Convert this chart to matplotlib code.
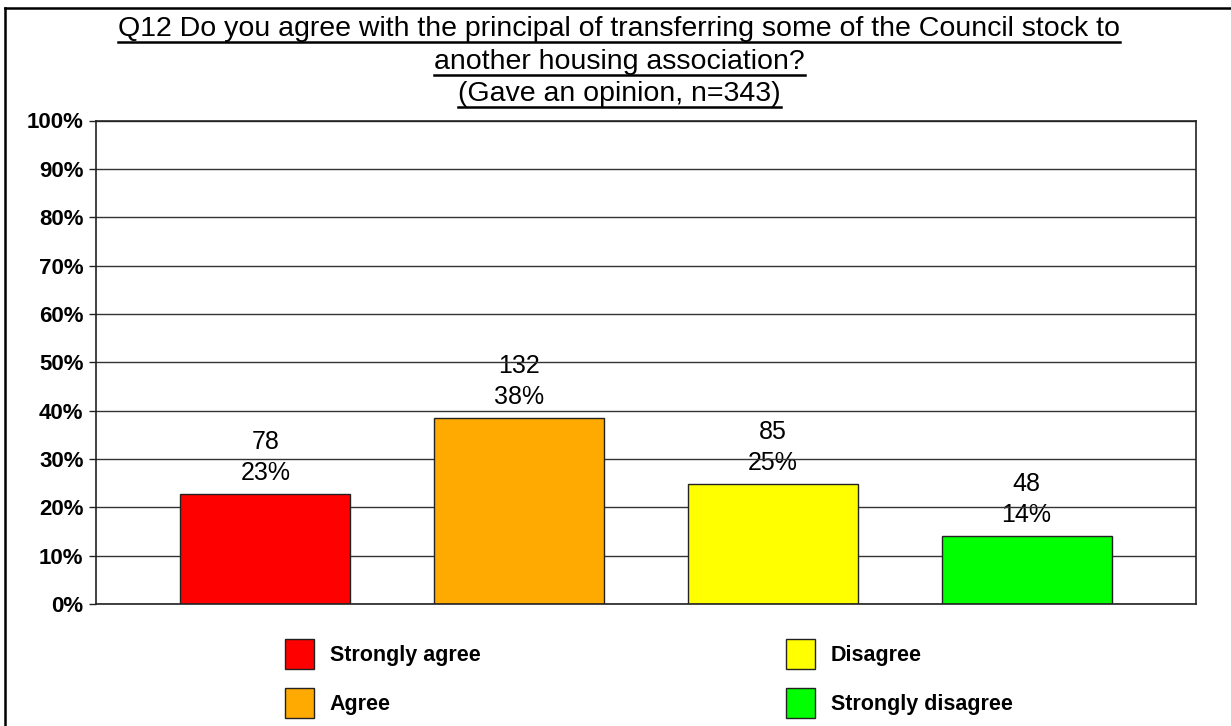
import matplotlib
matplotlib.use("Agg")
import matplotlib.pyplot as plt
from matplotlib.lines import Line2D

plt.rcParams['font.family'] = ['Liberation Sans', 'DejaVu Sans']

# ---- data ----
categories = ["Strongly agree", "Agree", "Disagree", "Strongly disagree"]
counts = [78, 132, 85, 48]
percents = [22.7, 38.5, 24.8, 14.0]
pct_labels = ["23%", "38%", "25%", "14%"]
colors = ["#FF0000", "#FFAA00", "#FFFF00", "#00FF00"]
yticks = [0, 10, 20, 30, 40, 50, 60, 70, 80, 90, 100]
ytick_labels = [f"{v}%" for v in yticks]
title_lines = [
    "Q12 Do you agree with the principal of transferring some of the Council stock to",
    "another housing association?",
    "(Gave an opinion, n=343)",
]

W, H = 1231, 726
fig = plt.figure(figsize=(W / 100, H / 100), dpi=100)
fig.patch.set_facecolor("white")

ax = fig.add_axes([96 / W, 1 - 604 / H, 1100 / W, 483.5 / H])
x = list(range(len(categories)))
bars = ax.bar(x, percents, width=0.67, color=colors, edgecolor="#222222",
              linewidth=1.0, zorder=2)

ax.set_ylim(0, 100)
ax.set_xlim(-0.668, 3.668)
ax.set_yticks(yticks)
ax.set_yticklabels(ytick_labels, fontsize=16, fontweight="bold")
ax.set_xticks([])
ax.tick_params(axis="y", length=5, width=1, pad=4, color="#222222")
ax.yaxis.grid(True, color="#333333", linewidth=1.0, zorder=1)
ax.set_axisbelow(True)
for s in ["left", "right", "top", "bottom"]:
    ax.spines[s].set_color("#222222")
    ax.spines[s].set_linewidth(1.2)

for xi, p, c, pl in zip(x, percents, counts, pct_labels):
    ax.annotate(f"{c}\n{pl}", xy=(xi, p), xytext=(0, 14), textcoords="offset pixels",
                ha="center", va="baseline", fontsize=18, linespacing=1.36,
                zorder=0)

# ---- title with underline ----
baselines = [36, 69, 101]
fig.canvas.draw()
renderer = fig.canvas.get_renderer()
for line, b in zip(title_lines, baselines):
    t = fig.text(0.503, 1 - b / H, line, ha="center", va="baseline", fontsize=20.5)
    bb = t.get_window_extent(renderer=renderer)
    uy = 1 - (b + 6) / H
    fig.add_artist(Line2D([bb.x0 / W, bb.x1 / W], [uy, uy], color="black",
                          linewidth=1.8, transform=fig.transFigure))

# ---- legend (two columns) ----
leg_kw = dict(frameon=False, loc="upper left", borderpad=0, borderaxespad=0,
              handlelength=1.35, handleheight=1.77, handletextpad=0.72,
              labelspacing=0.86, prop={"weight": "bold", "size": 15.5})
fig.legend([bars[0], bars[1]], [categories[0], categories[1]],
           bbox_to_anchor=(285 / W, 1 - 639 / H), **leg_kw)
fig.legend([bars[2], bars[3]], [categories[2], categories[3]],
           bbox_to_anchor=(786 / W, 1 - 639 / H), **leg_kw)

# ---- outer border (top and left visible) ----
fig.add_artist(Line2D([5 / W, 1], [1 - 8 / H, 1 - 8 / H], color="black",
                      linewidth=1.8, transform=fig.transFigure))
fig.add_artist(Line2D([5 / W, 5 / W], [0, 1 - 8 / H], color="black",
                      linewidth=1.8, transform=fig.transFigure))

fig.savefig("out.png", dpi=100, facecolor="white")
